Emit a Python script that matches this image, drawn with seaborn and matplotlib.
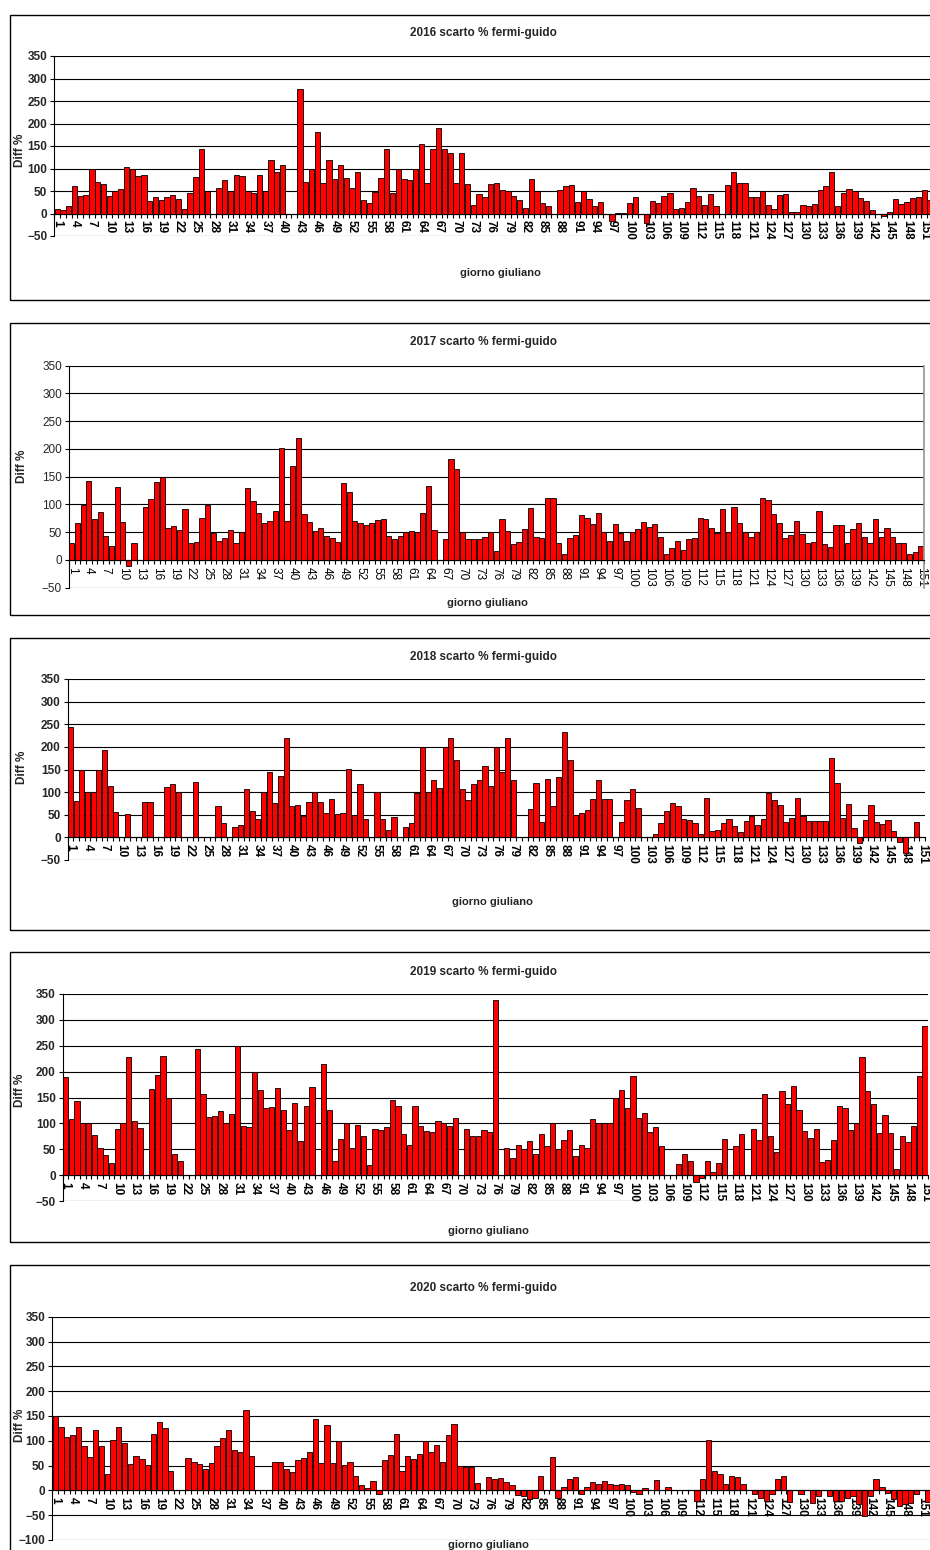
import numpy as np
import pandas as pd
import matplotlib.pyplot as plt
import seaborn as sns
from matplotlib.patches import Rectangle

nan = np.nan

# scarto % fermi-guido per giorno giuliano (nan = dato mancante)
v2016 = [11, 7, 16, 61, 40, 42, 100, 71, 65, 38,
         51, 54, 104, 100, 83, 85, 27, 36, 29, 36,
         42, 32, 10, 45, 81, 144, 51, nan, 56, 74,
         51, 86, 84, 51, 45, 86, 51, 118, 93, 107,
         nan, nan, 277, 70, 100, 181, 68, 120, 76, 107,
         79, 57, 93, 30, 24, 48, 79, 144, 46, 100,
         77, 75, 100, 154, 68, 144, 190, 144, 135, 68,
         135, 66, 18, 43, 36, 65, 68, 52, 49, 40,
         29, 12, 77, 49, 23, 16, nan, 52, 61, 63,
         25, 51, 32, 16, 25, nan, -16, 2, 2, 23,
         37, nan, -21, 27, 23, 40, 45, 10, 12, 25,
         57, 38, 18, 43, 16, nan, 63, 93, 68, 68,
         37, 37, 49, 18, 10, 41, 43, 4, 4, 18,
         16, 21, 52, 61, 93, 16, 45, 54, 49, 34,
         27, 7, nan, -5, 4, 32, 21, 25, 34, 37,
         52, 29]

v2017 = [31, 67, 99, 143, 74, 87, 44, 26, 131, 68,
         -10, 30, nan, 95, 109, 140, 149, 58, 61, 54,
         92, 31, 33, 76, 99, 48, 35, 39, 54, 30,
         51, 130, 107, 85, 66, 70, 89, 202, 70, 170,
         220, 83, 68, 52, 58, 44, 40, 33, 139, 122,
         70, 66, 63, 67, 72, 74, 44, 37, 44, 50,
         52, 50, 85, 133, 54, nan, 37, 181, 163, 50,
         37, 37, 37, 42, 50, 16, 74, 52, 28, 33,
         56, 94, 42, 40, 111, 111, 31, 11, 39, 45,
         81, 76, 65, 85, 50, 35, 65, 48, 35, 50,
         56, 69, 59, 65, 42, 11, 22, 35, 18, 37,
         39, 76, 73, 57, 48, 91, 50, 96, 67, 50,
         42, 50, 111, 108, 83, 67, 39, 45, 70, 46,
         31, 33, 89, 28, 23, 63, 63, 31, 56, 67,
         41, 30, 74, 41, 58, 42, 31, 30, 11, 14,
         26]

v2018 = [245, 80, 150, 100, 100, 150, 192, 114, 57, nan,
         52, nan, nan, 78, 78, nan, nan, 112, 118, 100,
         nan, nan, 123, nan, nan, nan, 69, 31, nan, 23,
         27, 108, 59, 41, 100, 144, 75, 135, 219, 69,
         72, 48, 78, 100, 78, 54, 84, 52, 54, 151,
         50, 118, 41, nan, 100, 41, 16, 46, nan, 23,
         31, 97, 200, 100, 126, 110, 200, 219, 172, 108,
         82, 118, 126, 157, 114, 200, 145, 220, 126, nan,
         nan, 62, 121, 34, 128, 69, 134, 232, 170, 50,
         54, 60, 84, 126, 84, 84, nan, 34, 82, 107,
         64, nan, nan, 7, 31, 59, 77, 69, 40, 38,
         31, 7, 87, 13, 16, 31, 41, 25, 11, 36,
         48, 28, 41, 99, 82, 71, 34, 43, 87, 48,
         36, 36, 36, 36, 175, 121, 43, 73, 20, -13,
         38, 71, 34, 29, 38, 13, -11, -34, nan, 34,
         nan]

v2019 = [189, 108, 144, 100, 100, 77, 52, 39, 24, 89,
         100, 228, 105, 91, nan, 167, 193, 230, 150, 40,
         28, nan, nan, 244, 156, 112, 114, 124, 100, 118,
         250, 95, 93, 200, 164, 130, 132, 168, 126, 87,
         140, 65, 134, 171, nan, 215, 126, 28, 69, 100,
         53, 97, 75, 20, 89, 87, 93, 146, 134, 79,
         59, 134, 95, 85, 83, 105, 100, 95, 110, nan,
         89, 75, 75, 87, 83, 338, nan, 53, 33, 59,
         51, 65, 40, 79, 57, 101, 51, 67, 87, 37,
         59, 53, 108, 101, 100, 100, 150, 164, 130, 191,
         110, 120, 83, 93, 57, nan, nan, 22, 40, 28,
         -14, -5, 28, 6, 24, 69, nan, 57, 79, nan,
         89, 67, 156, 75, 44, 162, 138, 172, 125, 85,
         71, 89, 26, 30, 67, 134, 130, 87, 101, 229,
         162, 138, 81, 116, 81, 11, 75, 64, 95, 191,
         288]

v2020 = [150, 128, 108, 112, 128, 90, 68, 122, 90, 33,
         102, 128, 95, 53, 70, 64, 52, 114, 138, 126,
         39, nan, nan, 66, 58, 54, 43, 55, 89, 105,
         122, 82, 78, 161, 70, nan, nan, nan, 58, 58,
         43, 37, 62, 66, 78, 144, 56, 132, 56, 100,
         51, 57, 29, 11, 4, 18, -8, 62, 72, 113,
         39, 70, 64, 74, 100, 78, 91, 57, 112, 134,
         50, 47, 47, 15, nan, 27, 23, 25, 17, 11,
         -10, -12, -18, -15, 29, nan, 68, -16, 7, 23,
         27, -7, 7, 17, 12, 19, 13, 10, 13, 10,
         -3, -8, 5, nan, 21, nan, 7, nan, nan, nan,
         nan, -21, 23, 102, 39, 32, 12, 29, 27, 13,
         nan, -7, -15, -21, -7, 23, 29, -23, nan, -8,
         nan, -25, -11, nan, -11, -21, -21, -15, -11, -28,
         -52, -11, 23, 7, -5, -17, -31, -28, -26, -7,
         nan, -23]

series = [("2016", v2016), ("2017", v2017), ("2018", v2018), ("2019", v2019), ("2020", v2020)]

sns.set_theme(style="white")
plt.rcParams['font.family'] = ['Liberation Sans', 'DejaVu Sans']

W, H = 930, 1550
fig = plt.figure(figsize=(9.3, 15.5), dpi=100)

# pixel layout: box top/bottom, plot left/right/top/bottom, y min, title y, xlabel xy, ylabel xy, bold labels
layout = [
    dict(box=(15, 300), plot=(54.3, 932.9, 56, 236), ymin=-50, ty=33, xl=(500, 273), yl=(20, 150), bold=True),
    dict(box=(323, 615), plot=(69, 923.7, 365.7, 587.7), ymin=-50, ty=342, xl=(487, 603), yl=(22, 466), bold=False),
    dict(box=(638, 930), plot=(67.6, 925, 679, 860), ymin=-50, ty=657, xl=(492, 902), yl=(22, 767), bold=True),
    dict(box=(952, 1242), plot=(62.7, 928, 994, 1201), ymin=-50, ty=972, xl=(488, 1231), yl=(20, 1090), bold=True),
    dict(box=(1265, 1570), plot=(52.3, 931, 1316.7, 1540), ymin=-100, ty=1288, xl=(488, 1545), yl=(20, 1425), bold=True),
]

for (year, vals), lay in zip(series, layout):
    n = len(vals)
    days = np.arange(1, n + 1)
    l, r, t, b = lay['plot']
    ax = fig.add_axes([l / W, 1 - b / H, (r - l) / W, (b - t) / H])

    df = pd.DataFrame({'giorno': days, 'diff': vals}).dropna()
    sns.barplot(data=df, x='giorno', y='diff', native_scale=True, color='#ff0000',
                saturation=1, edgecolor='black', linewidth=0.6, width=0.92,
                errorbar=None, ax=ax)

    ax.set_xlim(0.5, n + 0.5)
    ax.set_ylim(lay['ymin'], 350)
    ax.set_yticks(range(lay['ymin'], 351, 50))
    ax.grid(axis='y', color='black', lw=0.8)
    ax.set_axisbelow(True)
    ax.spines[['top', 'right']].set_visible(False)
    ax.spines['left'].set_color('black')
    ax.spines['left'].set_linewidth(0.8)
    ax.spines['bottom'].set_position(('data', 0))
    ax.spines['bottom'].set_color('black')
    ax.spines['bottom'].set_linewidth(0.8)
    if year == "2017":
        ax.spines['right'].set_visible(True)
        ax.spines['right'].set_color('#999999')

    ticks = days[::3]
    ax.set_xticks(ticks)
    ax.set_xticklabels([str(d) for d in ticks], rotation=-90)
    ax.set_xticks(np.arange(0.5, n + 1), minor=True)
    ax.tick_params(axis='x', which='major', length=0, pad=5, labelsize=8.5, colors='black')
    ax.tick_params(axis='x', which='minor', length=3, width=0.8, direction='out', color='black', bottom=True)
    ax.tick_params(axis='y', which='major', length=3, width=0.8, direction='out', color='black',
                   left=True, labelsize=8.5, pad=2)
    ax.set_xlabel('')
    ax.set_ylabel('')
    wt = 'bold' if lay['bold'] else 'normal'
    for lbl in ax.get_xticklabels() + ax.get_yticklabels():
        lbl.set_fontweight(wt)

    bt, bb = lay['box']
    fig.add_artist(Rectangle((10 / W, 1 - bb / H), 940 / W, (bb - bt) / H,
                             transform=fig.transFigure, fill=False, ec='black', lw=1))
    fig.text(483 / W, 1 - lay['ty'] / H, f"{year} scarto % fermi-guido", ha='center', va='center',
             fontsize=8.5, fontweight='bold')
    fig.text(lay['xl'][0] / W, 1 - lay['xl'][1] / H, "giorno giuliano", ha='center', va='center',
             fontsize=8, fontweight='bold')
    fig.text(lay['yl'][0] / W, 1 - lay['yl'][1] / H, "Diff %", ha='center', va='center',
             rotation=90, fontsize=8.5, fontweight='bold')

fig.savefig("out.png", dpi=100)
